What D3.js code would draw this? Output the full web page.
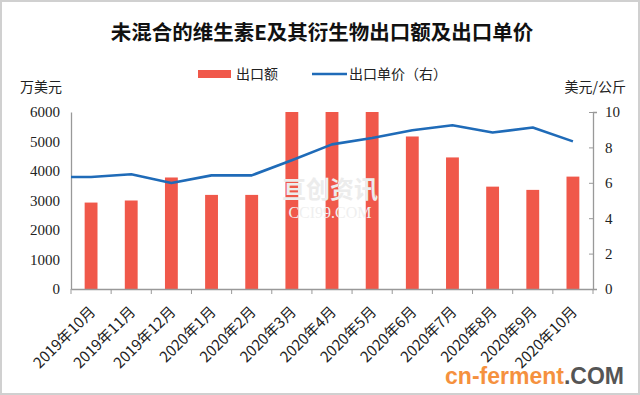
<!DOCTYPE html>
<html>
<head>
<meta charset="utf-8">
<script src="https://cdn.jsdelivr.net/npm/d3@7"></script>
<style>
  body { margin: 0; background: #fff; }
  svg { display: block; }
</style>
</head>
<body>
<svg id="chart" width="640" height="395"></svg>
<script>
  'use strict';
  var months = ['2019年10月', '2019年11月', '2019年12月', '2020年1月', '2020年2月', '2020年3月',
    '2020年4月', '2020年5月', '2020年6月', '2020年7月', '2020年8月', '2020年9月', '2020年10月'];
  var exportValue = [2930, 3000, 3780, 3190, 3190, 6000, 6000, 6000, 5170, 4460, 3470, 3360, 3810];
  var unitPrice = [6.33, 6.48, 5.99, 6.42, 6.42, 7.27, 8.17, 8.53, 8.97, 9.25, 8.84, 9.12, 8.34];
  var leftTicks = [0, 1000, 2000, 3000, 4000, 5000, 6000];
  var rightTicks = [0, 2, 4, 6, 8, 10];

  var barColor = '#f0584a';
  var lineColor = '#1f6bb8';
  var cjk = '"Noto Sans CJK SC", sans-serif';
  var num = '"Liberation Serif", serif';

  var svg = d3.select('#chart');
  var margin = {left: 71, right: 47, top: 112, bottom: 106};
  var width = 640 - margin.left - margin.right;
  var height = 395 - margin.top - margin.bottom;

  // frame
  svg.append('rect').attr('x', 0.5).attr('y', 0.5).attr('width', 639).attr('height', 394)
    .attr('fill', 'none').attr('stroke', '#d0d0d0').attr('stroke-width', 3);

  var x = d3.scaleBand().domain(months).range([0, width]).paddingInner(0.68).paddingOuter(0.34);
  var yL = d3.scaleLinear().domain([0, 6000]).range([height, 0]);
  var yR = d3.scaleLinear().domain([0, 10]).range([height, 0]);

  var g = svg.append('g').attr('transform', 'translate(' + margin.left + ',' + margin.top + ')');

  // watermark
  svg.append('text').attr('x', 330).attr('y', 198).attr('text-anchor', 'middle')
    .attr('font-family', cjk).attr('font-size', 24).attr('font-weight', 'bold')
    .attr('fill', '#ececec').text('亘创资讯');
  svg.append('text').attr('x', 330).attr('y', 218).attr('text-anchor', 'middle')
    .attr('font-family', num).attr('font-size', 16)
    .attr('fill', '#efefef').text('CCI99.COM');

  // bars
  g.selectAll('rect.bar').data(exportValue).enter().append('rect')
    .attr('class', 'bar')
    .attr('x', function(d, i) { return x(months[i]); })
    .attr('y', function(d) { return yL(d); })
    .attr('width', x.bandwidth())
    .attr('height', function(d) { return height - yL(d); })
    .attr('fill', barColor);

  // axes
  var axisColor = '#999';
  var leftAxis = g.append('g')
    .call(d3.axisLeft(yL).tickValues(leftTicks).tickFormat(d3.format('d')).tickSize(0).tickPadding(11));
  var rightAxis = g.append('g').attr('transform', 'translate(' + width + ',0)')
    .call(d3.axisRight(yR).tickValues(rightTicks).tickSize(4).tickPadding(8));
  var bottomAxis = g.append('g').attr('transform', 'translate(0,' + height + ')')
    .call(d3.axisBottom(x).tickSize(0).tickFormat(''));

  [leftAxis, rightAxis, bottomAxis].forEach(function(a) {
    a.select('.domain').attr('stroke', axisColor).attr('stroke-width', 1.3);
    a.selectAll('.tick line').attr('stroke', axisColor);
    a.selectAll('text').attr('font-family', num).attr('font-size', 15).attr('fill', '#222');
  });
  rightAxis.selectAll('.tick line').attr('x1', -4).attr('x2', 0);

  // category boundary ticks
  var step = x.step();
  g.selectAll('line.sep').data(d3.range(months.length + 1)).enter().append('line')
    .attr('class', 'sep')
    .attr('x1', function(i) { return i * step; })
    .attr('x2', function(i) { return i * step; })
    .attr('y1', height).attr('y2', height + 5)
    .attr('stroke', axisColor);

  // rotated category labels
  g.selectAll('text.cat').data(months).enter().append('text')
    .attr('class', 'cat')
    .attr('transform', function(d) {
      return 'translate(' + (x(d) + x.bandwidth() / 2 + 1.5) + ',' + (height + 20) + ') rotate(-45)';
    })
    .attr('text-anchor', 'end').attr('dy', '0.35em')
    .attr('font-family', cjk).attr('font-size', 15).attr('fill', '#222')
    .text(function(d) { return d; });

  // price line (starts at the left axis like the source chart)
  var pts = unitPrice.map(function(d, i) { return [x(months[i]) + x.bandwidth() / 2, yR(d)]; });
  pts.unshift([0, yR(unitPrice[0])]);
  g.append('path').datum(pts)
    .attr('d', d3.line())
    .attr('fill', 'none').attr('stroke', lineColor).attr('stroke-width', 2.6)
    .attr('stroke-linejoin', 'round');

  // title
  svg.append('text').attr('x', 322).attr('y', 40).attr('text-anchor', 'middle')
    .attr('font-family', cjk).attr('font-size', 20.5).attr('font-weight', 'bold').attr('fill', '#111')
    .text('未混合的维生素E及其衍生物出口额及出口单价');

  // legend
  svg.append('rect').attr('x', 198).attr('y', 70).attr('width', 33).attr('height', 8).attr('fill', barColor);
  svg.append('text').attr('x', 236).attr('y', 79).attr('font-family', cjk).attr('font-size', 14)
    .attr('fill', '#222').text('出口额');
  svg.append('line').attr('x1', 312).attr('x2', 347).attr('y1', 74).attr('y2', 74)
    .attr('stroke', lineColor).attr('stroke-width', 2.6);
  svg.append('text').attr('x', 349).attr('y', 79).attr('font-family', cjk).attr('font-size', 14)
    .attr('fill', '#222').text('出口单价（右）');

  // axis titles
  svg.append('text').attr('x', 20).attr('y', 92).attr('font-family', cjk).attr('font-size', 14)
    .attr('fill', '#222').text('万美元');
  svg.append('text').attr('x', 626).attr('y', 92).attr('text-anchor', 'end')
    .attr('font-family', cjk).attr('font-size', 14).attr('fill', '#222').text('美元/公斤');

  // source mark
  var mark = svg.append('text').attr('x', 624).attr('y', 384).attr('text-anchor', 'end')
    .attr('font-family', '"Liberation Sans", sans-serif').attr('font-weight', 'bold').attr('font-size', 23);
  mark.append('tspan').attr('fill', '#f5913e').text('cn-ferment');
  mark.append('tspan').attr('fill', '#555').text('.COM');
</script>
</body>
</html>
